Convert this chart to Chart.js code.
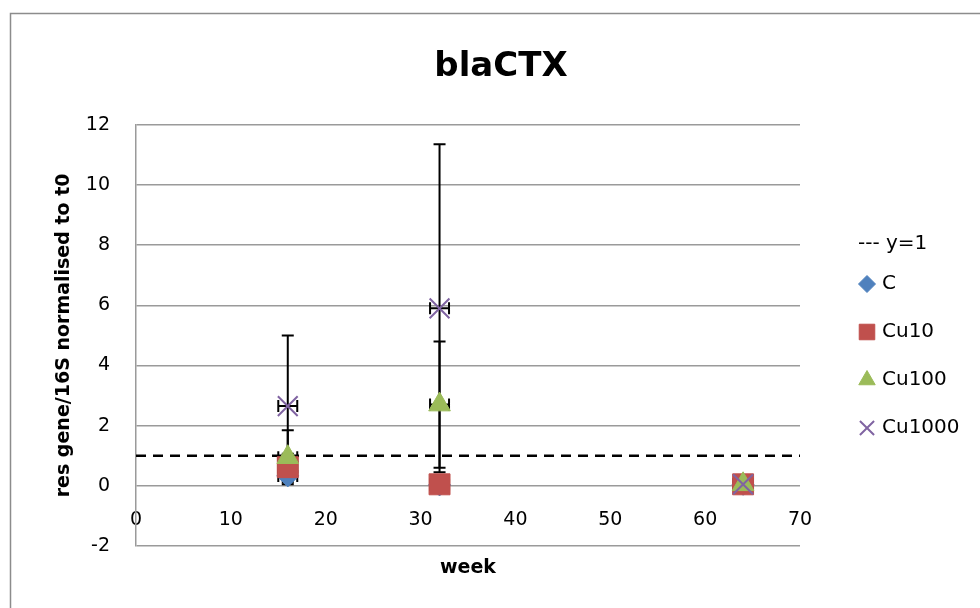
<!DOCTYPE html>
<html>
<head>
<meta charset="utf-8">
<title>blaCTX</title>
<script src="https://cdn.jsdelivr.net/npm/chart.js@4.4.1/dist/chart.umd.min.js"></script>
<style>
  html, body { margin: 0; padding: 0; background: #fff; }
</style>
</head>
<body>
<canvas id="chart" width="980" height="608"></canvas>
<script>
// sampling weeks and qPCR ratios (res gene / 16S, normalised to t0)
const weeks = [16, 32, 64];
const seriesNames = ['C', 'Cu10', 'Cu100', 'Cu1000'];
const valuesC = [0.33, 0.03, 0.05];
const valuesCu10 = [0.62, 0.05, 0.05];
const valuesCu100 = [0.95, 2.7, 0.05];
const valuesCu1000 = [2.65, 5.9, 0.05];
// standard deviations (y) and week spread (x)
const errC = [0.22, 0.02, 0.02];
const errCu10 = [0.45, 0.05, 0.03];
const errCu100 = [0.9, 2.1, 0.03];
const errCu1000 = [2.35, 5.45, 0.05];
const weekErr = [1, 1, 1];
// reference line
const refLabel = '--- y=1';
const refX = [0, 70];
const refY = 1;
const xTicks = [0, 10, 20, 30, 40, 50, 60, 70];
const yTicks = [-2, 0, 2, 4, 6, 8, 10, 12];

const colors = ['#4F81BD', '#C0504D', '#9BBB59', '#8064A2'];
const markers = ['rectRot', 'rect', 'triangle', 'crossRot'];
const markerSize = [11, 14.8, 12.5, 14];
const legendSize = [8.5, 11, 9.5, 10];
const allValues = [valuesC, valuesCu10, valuesCu100, valuesCu1000];
const allErr = [errC, errCu10, errCu100, errCu1000];

const FONT = "'DejaVu Sans', sans-serif";

// later series sit on top of earlier ones
const seriesSets = seriesNames.map((name, i) => ({
  label: name,
  order: seriesNames.length - i,
  data: weeks.map((w, j) => ({x: w, y: allValues[i][j]})),
  errY: allErr[i],
  errX: weekErr,
  showLine: false,
  pointStyle: markers[i],
  pointRadius: markerSize[i],
  pointHoverRadius: markerSize[i],
  backgroundColor: colors[i],
  borderColor: colors[i],
  pointBorderWidth: markers[i] === 'crossRot' ? 2 : 1
}));

const refSet = {
  label: refLabel,
  order: 10,
  data: refX.map(x => ({x: x, y: refY})),
  showLine: true,
  borderColor: '#000',
  borderWidth: 2.5,
  borderDash: [10, 7],
  pointRadius: 0
};

// outer frame of the chart object
const framePlugin = {
  id: 'frame',
  beforeDraw(chart) {
    const ctx = chart.ctx;
    ctx.save();
    ctx.strokeStyle = '#8c8c8c';
    ctx.lineWidth = 1.5;
    ctx.strokeRect(10.5, 13.5, 1200, 1200);
    ctx.restore();
  }
};

// x and y error bars with caps, drawn under the markers
const errorBarPlugin = {
  id: 'errorBars',
  beforeDatasetsDraw(chart) {
    const {ctx, scales: {x, y}} = chart;
    const cap = 6;
    ctx.save();
    ctx.strokeStyle = '#000';
    ctx.lineWidth = 2;
    chart.data.datasets.forEach(ds => {
      if (!ds.errY) return;
      ds.data.forEach((p, j) => {
        const px = x.getPixelForValue(p.x);
        const py = y.getPixelForValue(p.y);
        const top = y.getPixelForValue(p.y + ds.errY[j]);
        const bot = y.getPixelForValue(p.y - ds.errY[j]);
        const lft = x.getPixelForValue(p.x - ds.errX[j]);
        const rgt = x.getPixelForValue(p.x + ds.errX[j]);
        ctx.beginPath();
        ctx.moveTo(px, top); ctx.lineTo(px, bot);
        ctx.moveTo(px - cap, top); ctx.lineTo(px + cap, top);
        ctx.moveTo(px - cap, bot); ctx.lineTo(px + cap, bot);
        ctx.moveTo(lft, py); ctx.lineTo(rgt, py);
        ctx.moveTo(lft, py - cap); ctx.lineTo(lft, py + cap);
        ctx.moveTo(rgt, py - cap); ctx.lineTo(rgt, py + cap);
        ctx.stroke();
      });
    });
    ctx.restore();
  }
};

// legend on the right: text entry for the reference line, then markers
const legendPlugin = {
  id: 'sideLegend',
  afterDraw(chart) {
    const ctx = chart.ctx;
    ctx.save();
    ctx.font = '20px ' + FONT;
    ctx.textBaseline = 'middle';
    ctx.textAlign = 'left';
    ctx.fillStyle = '#000';
    ctx.fillText(refLabel, 858, 244);
    const rows = [284, 332, 380, 428];
    seriesNames.forEach((name, i) => {
      ctx.fillStyle = colors[i];
      ctx.strokeStyle = colors[i];
      ctx.lineWidth = markers[i] === 'crossRot' ? 2 : 1;
      Chart.helpers.drawPoint(ctx, {
        pointStyle: markers[i],
        radius: legendSize[i],
        borderWidth: ctx.lineWidth,
        rotation: 0
      }, 867, rows[i]);
      ctx.fillStyle = '#000';
      ctx.fillText(name, 882, rows[i]);
    });
    ctx.restore();
  }
};

new Chart(document.getElementById('chart'), {
  type: 'scatter',
  data: { datasets: [refSet, ...seriesSets] },
  options: {
    responsive: false,
    animation: false,
    layout: { padding: { left: 22, right: 0, top: 0, bottom: 0 } },
    plugins: {
      legend: { display: false },
      tooltip: { enabled: false },
      title: {
        display: true,
        text: 'blaCTX',
        color: '#000',
        font: { family: FONT, size: 34, weight: 'bold' },
        padding: { top: 47, bottom: 37 }
      }
    },
    scales: {
      x: {
        type: 'linear',
        min: 0,
        max: 70,
        afterBuildTicks: s => { s.ticks = xTicks.map(v => ({value: v})); },
        afterFit: s => { s.height = 62; },
        grid: { display: false },
        border: { display: false },
        // labels sit just below the zero line, inside the plot area
        ticks: { color: '#000', mirror: true, padding: 15, font: { family: FONT, size: 19 } },
        title: {
          display: true,
          text: 'week',
          color: '#000',
          font: { family: FONT, size: 19, weight: 'bold' },
          padding: { top: 0, bottom: 29 }
        }
      },
      y: {
        type: 'linear',
        min: -2,
        max: 12,
        afterBuildTicks: s => { s.ticks = yTicks.map(v => ({value: v})); },
        afterFit: s => { s.width = 114; },
        grid: { color: '#9a9a9a', lineWidth: 1.5, drawTicks: false },
        border: { color: '#9a9a9a', width: 1.5 },
        ticks: { color: '#000', padding: 26, font: { family: FONT, size: 19 } },
        title: {
          display: true,
          text: 'res gene/16S normalised to t0',
          color: '#000',
          font: { family: FONT, size: 19, weight: 'bold' },
          padding: { top: 31, bottom: 0 }
        }
      },
      // empty strip on the right that holds the legend
      legendSpace: {
        type: 'linear',
        axis: 'y',
        position: 'right',
        afterFit: s => { s.width = 180; },
        grid: { display: false },
        border: { display: false },
        ticks: { display: false }
      }
    }
  },
  plugins: [framePlugin, errorBarPlugin, legendPlugin]
});
</script>
</body>
</html>
